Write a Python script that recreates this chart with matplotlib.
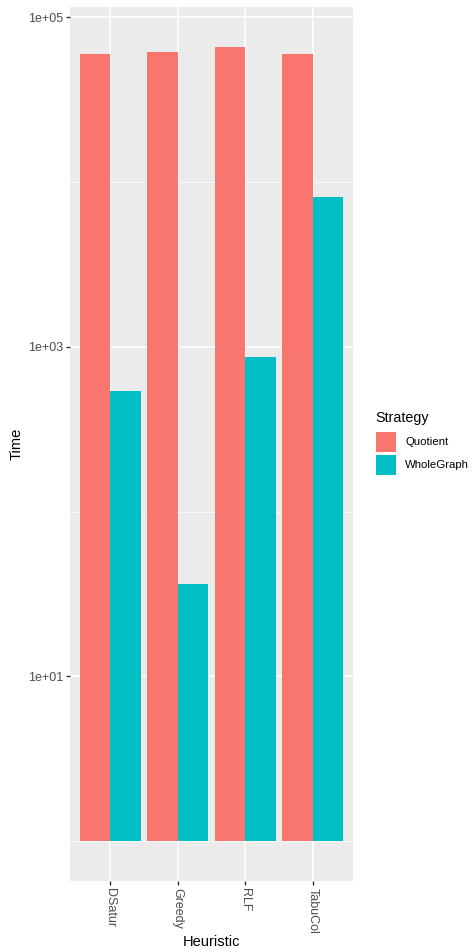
import matplotlib.pyplot as plt
import numpy as np
from matplotlib.patches import Rectangle
from matplotlib.ticker import NullFormatter

plt.rcParams["font.family"] = ["Liberation Sans", "DejaVu Sans"]

heuristics = ["DSatur", "Greedy", "RLF", "TabuCol"]
strategies = ["Quotient", "WholeGraph"]
quotient_time = [59600, 61300, 66100, 59500]
wholegraph_time = [541, 35.2, 869, 8080]
colors = ["#F8766D", "#00BFC4"]

W, H = 475, 952
fig = plt.figure(figsize=(W / 100, H / 100), dpi=100)
# panel in pixel coords: x 70..353, y 7..881
ax = fig.add_axes([70 / W, 1 - 881 / H, (353 - 70) / W, (881 - 7) / H])
ax.set_facecolor("#EBEBEB")
for s in ax.spines.values():
    s.set_visible(False)

x = np.arange(1, len(heuristics) + 1)
bw = 0.45
for i, (vals, c) in enumerate(zip([quotient_time, wholegraph_time], colors)):
    ax.bar(x - bw / 2 + i * bw, vals, width=bw, bottom=1, color=c, zorder=3, label=strategies[i])

ax.set_yscale("log")
lo = 0
hi = np.log10(max(quotient_time))
pad = 0.05 * (hi - lo)
ax.set_ylim(10 ** (lo - pad), 10 ** (hi + pad))
ax.set_xlim(0.4, 4.6)

ax.set_yticks([10, 1e3, 1e5])
ax.set_yticklabels(["1e+01", "1e+03", "1e+05"])
ax.set_yticks([1, 100, 1e4], minor=True)
ax.yaxis.set_minor_formatter(NullFormatter())
ax.tick_params(axis="y", which="minor", length=0)
ax.set_xticks(x)
ax.set_xticklabels(heuristics, rotation=-90)
ax.tick_params(axis="both", which="major", length=3, width=1, color="#333333",
               labelcolor="#4D4D4D", labelsize=9, pad=2)
ax.grid(True, which="major", color="white", linewidth=1.1, zorder=1)
ax.grid(True, which="minor", axis="y", color="white", linewidth=0.55, zorder=1)
ax.set_axisbelow(True)

ax.set_xlabel("Heuristic", fontsize=10.5, labelpad=1)
ax.set_ylabel("Time", fontsize=10.5, labelpad=3)

# legend
fig.text(375 / W, 1 - 418 / H, "Strategy", fontsize=10.3, va="center", ha="left")
for i, (lab, c) in enumerate(zip(strategies, colors)):
    y0 = 432 + i * 23
    fig.patches.append(Rectangle((376 / W, 1 - (y0 + 20) / H), 20 / W, 20 / H,
                                 transform=fig.transFigure, facecolor=c, edgecolor="none"))
    fig.text(405 / W, 1 - (y0 + 10) / H, lab, fontsize=8.2, va="center", ha="left")

plt.savefig("out.png", dpi=100)
